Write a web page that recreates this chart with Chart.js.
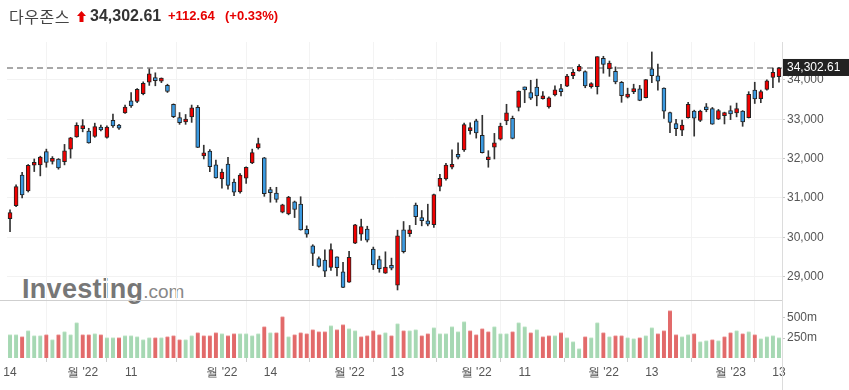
<!DOCTYPE html>
<html>
<head>
<meta charset="utf-8">
<script src="https://cdn.jsdelivr.net/npm/chart.js@4.4.1/dist/chart.umd.min.js"></script>
<style>
  body { margin: 0; background: #fff; width: 849px; height: 390px; overflow: hidden; position: relative;
         font-family: "Liberation Sans", Arial, "Noto Sans CJK KR", sans-serif; }
  .hd { position: absolute; top: 5px; height: 22px; line-height: 22px; white-space: nowrap; }
  #name { left: 9px; font-size: 16px; color: #444; font-family: "Noto Sans CJK KR", sans-serif; letter-spacing: 0.5px; }
  #arrow { left: 77px; top: 11px; height: auto; line-height: 0; }
  #last { left: 90px; font-size: 16px; font-weight: bold; color: #333; }
  #chg { left: 168px; font-size: 13px; font-weight: bold; color: #e60000; }
  #pct { left: 225px; font-size: 13px; font-weight: bold; color: #e60000; }
  #wm { position: absolute; left: 22px; top: 276px; line-height: 27px; white-space: nowrap; }
  #wm .inv { font-size: 27px; font-weight: bold; color: #777; letter-spacing: 0.3px; }
  #wm .com { font-size: 19px; color: #888; }
  #main { position: absolute; left: 0; top: 0; }
  #vol { position: absolute; left: 0; top: 300px; }
</style>
</head>
<body>
<div id="wm"><span class="inv">Investing</span><span class="com">.com</span></div>
<canvas id="main" width="849" height="300"></canvas>
<canvas id="vol" width="849" height="90"></canvas>
<span class="hd" id="name">다우존스</span>
<span class="hd" id="arrow"><svg width="9" height="11" viewBox="0 0 9 11"><path d="M4.5 0 L9 5 L6.5 5 L6.5 11 L2.5 11 L2.5 5 L0 5 Z" fill="#e60000"/></svg></span>
<span class="hd" id="last">34,302.61</span>
<span class="hd" id="chg">+112.64</span>
<span class="hd" id="pct">(+0.33%)</span>
<script>
// trading days 14 Jul 2022 .. 13 Jan 2023
var dates = [
  '7/14','7/15','7/18','7/19','7/20','7/21','7/22','7/25','7/26','7/27','7/28','7/29',
  '8/1','8/2','8/3','8/4','8/5','8/8','8/9','8/10','8/11','8/12','8/15','8/16','8/17','8/18','8/19','8/22','8/23','8/24','8/25','8/26','8/29','8/30','8/31',
  '9/1','9/2','9/6','9/7','9/8','9/9','9/12','9/13','9/14','9/15','9/16','9/19','9/20','9/21','9/22','9/23','9/26','9/27','9/28','9/29','9/30',
  '10/3','10/4','10/5','10/6','10/7','10/10','10/11','10/12','10/13','10/14','10/17','10/18','10/19','10/20','10/21','10/24','10/25','10/26','10/27','10/28','10/31',
  '11/1','11/2','11/3','11/4','11/7','11/8','11/9','11/10','11/11','11/14','11/15','11/16','11/17','11/18','11/21','11/22','11/23','11/25','11/28','11/29','11/30',
  '12/1','12/2','12/5','12/6','12/7','12/8','12/9','12/12','12/13','12/14','12/15','12/16','12/19','12/20','12/21','12/22','12/23','12/27','12/28','12/29','12/30',
  '1/3','1/4','1/5','1/6','1/9','1/10','1/11','1/12','1/13'
];

var tickText = {
  '7/14': '14', '8/1': "월 '22", '8/11': '11', '9/1': "월 '22", '9/14': '14', '10/3': "월 '22",
  '10/13': '13', '11/1': "월 '22", '11/11': '11', '12/1': "월 '22", '12/13': '13', '1/3': "월 '23", '1/13': '13'
};
var priceTicks = [29000, 30000, 31000, 32000, 33000, 34000];
var volTicks = [250, 500];

var opens = [
  30470,30800,31580,31180,31830,31840,32180,31930,31990,31920,32240,32550,
  32760,32700,32560,32800,32540,32970,32840,33160,33470,33450,33650,33940,34060,33970,33860,33380,33040,32930,33060,33300,32070,32190,31840,
  31480,31860,31400,31150,31500,31890,32270,32020,31160,31120,30640,30590,30900,30840,30200,29780,29460,29420,29230,29500,29120,
  28860,29850,30080,30210,29700,29430,29090,29240,28780,30190,30090,30820,30450,30420,30320,31290,31480,31780,32040,32220,32710,
  32960,32590,31970,32290,32490,32960,33020,33300,33800,33680,33820,33520,33310,33620,33780,33840,34110,34230,34210,33830,33830,
  34550,34280,34220,33940,33560,33700,33770,33550,34280,34100,33790,33170,32890,32720,33040,33210,32970,33270,33270,33000,33090,
  33220,33160,33210,33040,33740,33520,33760,34060,34080
];
var highs = [
  30700,31330,31650,31850,31990,32060,32240,32050,32000,32360,32540,32910,
  32990,32770,32900,32850,32830,33130,32870,33360,33680,33780,33950,34280,34180,34050,33890,33390,33170,33120,33360,33350,32340,32230,31960,
  31735,32030,31480,31620,31790,32240,32520,32030,31270,31270,30840,31040,30920,31030,30290,29810,29500,29680,29830,29500,29360,
  29640,30330,30460,30280,29750,29520,29630,29470,30180,30400,30300,30870,30680,30840,31100,31600,31880,32220,32400,32900,32910,
  33000,33100,32200,32640,32900,33380,33080,33720,33820,33990,34020,33700,33570,33850,33890,34140,34270,34390,34230,33930,34590,
  34600,34480,34330,33960,33790,33890,33860,34010,34710,34400,33800,33180,33000,32980,33430,33230,33230,33400,33300,33250,33180,
  33340,33410,33220,33700,33940,33740,34000,34300,34320
];
var lows = [
  30140,30780,31000,31150,31670,31560,31780,31860,31730,31840,32010,32540,
  32680,32390,32540,32700,32520,32790,32740,33150,33300,33420,33620,33860,33850,33930,33680,33040,32870,32870,32920,32280,31990,31670,31500,
  31250,31220,31060,31120,31370,31870,32240,31040,30890,30890,30620,30570,30500,30180,30000,29280,29240,29000,29160,29020,28720,
  28850,29840,29920,29880,29180,29110,29080,29170,28660,29600,30020,30320,30290,30290,30250,31180,31450,31740,31990,32180,32620,
  32520,32140,31780,31990,32470,32860,32500,33210,33420,33500,33340,33510,33280,33590,33590,33830,34030,34220,33800,33790,33640,
  34170,34090,33900,33430,33540,33650,33470,33540,33930,33740,33020,32660,32580,32580,33030,32570,32940,33190,32870,32990,32880,
  32990,33060,32820,33030,33400,33420,33740,33800,33940
];
var closes = [
  30630,31288,31073,31827,31875,32037,31899,31990,31762,32198,32530,32845,
  32798,32396,32812,32727,32803,32833,32774,33310,33337,33761,33912,34152,33980,33999,33707,33064,32910,32969,33292,32283,32099,31791,31510,
  31656,31318,31145,31581,31775,32152,32381,31105,31135,30962,30822,31020,30706,30184,30077,29590,29261,29135,29684,29226,28726,
  29491,30316,30274,29927,29297,29203,29239,29211,30039,29635,30186,30524,30424,30334,31083,31500,31837,31839,32033,32862,32733,
  32653,32148,32001,32403,32827,33161,32514,33715,33748,33537,33593,33554,33546,33746,33700,34098,34194,34347,33849,33853,34590,
  34395,34430,33947,33596,33598,33781,33476,34005,34109,33966,33202,32920,32758,32850,33376,33027,33204,33242,32876,33221,33147,
  33136,33270,32930,33631,33518,33704,33973,34190,34302.61
];
// volume in millions
var volumes = [
  292,292,267,342,279,279,292,229,292,329,292,442,
  292,292,304,292,254,254,254,279,279,267,229,254,254,254,267,279,229,229,279,317,279,279,317,
  304,279,304,304,304,279,304,392,317,317,517,267,292,317,304,354,329,329,404,354,417,
  367,342,267,279,342,292,317,279,429,342,342,354,279,304,379,304,304,392,329,454,342,
  292,367,329,392,304,304,329,442,392,317,354,267,279,279,317,254,204,117,267,254,442,
  317,267,279,279,254,242,254,279,379,304,342,592,292,267,292,304,204,217,229,217,267,
  317,342,304,329,292,242,267,279,254
];

var UP = '#f00000', DOWN = '#3b9ae1';
var bodyColors = closes.map(function(c, i) { return c >= opens[i] ? UP : DOWN; });
var volColors = closes.map(function(c, i) { return (i === 0 || c >= closes[i - 1]) ? '#a6d8b3' : '#e26a6a'; });
var volTops = closes.map(function(c, i) { return (i === 0 || c >= closes[i - 1]) ? '#c9eacf' : '#f0a3a3'; });
var lastPrice = closes[closes.length - 1];

var axisFont = { family: '"Liberation Sans", Arial, sans-serif', size: 12 };

function xTick(val) {
  var t = tickText[this.getLabelForValue(val)];
  return t === undefined ? null : t;
}

// fixed axis width, no extra label padding eating into the plot
function fitRightAxis(s) {
  s.width = 67;
  s.paddingTop = 0;
  s.paddingBottom = 0;
}

// right axis line through the whole panel
function axisLine(chart, y0, y1) {
  var ctx = chart.ctx, x = Math.round(chart.chartArea.right) + 0.5;
  ctx.save();
  ctx.strokeStyle = '#dcdcdc';
  ctx.lineWidth = 1;
  ctx.beginPath();
  ctx.moveTo(x, y0);
  ctx.lineTo(x, y1);
  ctx.stroke();
  ctx.restore();
}

var priceDecor = {
  id: 'priceDecor',
  beforeDatasetsDraw: function(chart) {
    var ctx = chart.ctx, area = chart.chartArea;
    var py = chart.scales.y.getPixelForValue(lastPrice);
    ctx.save();
    ctx.setLineDash([6, 4]);
    ctx.strokeStyle = '#a8a8a8';
    ctx.lineWidth = 2;
    ctx.beginPath();
    ctx.moveTo(area.left, py);
    ctx.lineTo(area.right, py);
    ctx.stroke();
    ctx.restore();
  },
  afterDraw: function(chart) {
    var ctx = chart.ctx, area = chart.chartArea;
    axisLine(chart, area.top, chart.height);
    var py = chart.scales.y.getPixelForValue(lastPrice);
    ctx.save();
    ctx.fillStyle = '#222';
    ctx.fillRect(area.right + 1, py - 9, chart.width - area.right, 17);
    ctx.fillStyle = '#fff';
    ctx.font = '12px "Liberation Sans", Arial, sans-serif';
    ctx.textBaseline = 'middle';
    ctx.fillText(lastPrice.toLocaleString('en-US', { minimumFractionDigits: 2 }), area.right + 5, py);
    ctx.restore();
  }
};

var volDecor = {
  id: 'volDecor',
  afterDraw: function(chart) {
    var ctx = chart.ctx, area = chart.chartArea;
    axisLine(chart, 0, chart.height);
    ctx.save();
    ctx.strokeStyle = '#cfcfcf';
    ctx.lineWidth = 1;
    ctx.beginPath();
    ctx.moveTo(0, 0.5);
    ctx.lineTo(area.right, 0.5);
    ctx.stroke();
    ctx.restore();
  }
};

new Chart(document.getElementById('main'), {
  type: 'bar',
  data: {
    labels: dates,
    datasets: [
      {
        label: 'wick',
        data: lows.map(function(l, i) { return [l, highs[i]]; }),
        backgroundColor: '#333',
        barThickness: 1,
        grouped: false,
        order: 2
      },
      {
        label: 'body',
        data: opens.map(function(o, i) { return [o, closes[i]]; }),
        backgroundColor: bodyColors,
        borderColor: '#222',
        borderWidth: 1,
        borderSkipped: false,
        barThickness: 4,
        minBarLength: 3,
        grouped: false,
        order: 1
      }
    ]
  },
  options: {
    responsive: false,
    animation: false,
    layout: { padding: { top: 42, left: 7, right: 0, bottom: 0 } },
    plugins: { legend: { display: false }, tooltip: { enabled: false } },
    scales: {
      x: {
        offset: true,
        border: { display: false },
        grid: { color: '#f3f3f3', drawTicks: false },
        ticks: { display: false, autoSkip: false, callback: xTick },
        afterFit: function(s) { s.height = 0; }
      },
      y: {
        position: 'right',
        min: 28405,
        max: 34963,
        border: { display: false },
        grid: { color: '#f2f2f2', tickColor: '#c8c8c8', tickLength: 3 },
        afterBuildTicks: function(s) { s.ticks = priceTicks.map(function(v) { return { value: v }; }); },
        ticks: {
          color: '#555', font: axisFont, padding: 2, autoSkip: false,
          callback: function(v) { return v.toLocaleString('en-US'); }
        },
        afterFit: fitRightAxis
      }
    }
  },
  plugins: [priceDecor]
});

new Chart(document.getElementById('vol'), {
  type: 'bar',
  data: {
    labels: dates,
    datasets: [{
      label: 'volume',
      data: volumes,
      backgroundColor: volColors,
      borderColor: volTops,
      borderWidth: { top: 1, left: 0, right: 0, bottom: 0 },
      barThickness: 4
    }]
  },
  options: {
    responsive: false,
    animation: false,
    layout: { padding: { top: 0, left: 7, right: 0, bottom: 0 } },
    plugins: { legend: { display: false }, tooltip: { enabled: false } },
    scales: {
      x: {
        offset: true,
        border: { display: false },
        grid: { color: '#f3f3f3', tickColor: '#cccccc', tickLength: 4 },
        ticks: { autoSkip: false, maxRotation: 0, minRotation: 0, color: '#555', font: axisFont, padding: 3, callback: xTick },
        afterFit: function(s) { s.height = 32; }
      },
      y: {
        position: 'right',
        min: 0,
        max: 725,
        border: { display: false },
        grid: { drawOnChartArea: false, tickColor: '#c8c8c8', tickLength: 3 },
        afterBuildTicks: function(s) { s.ticks = volTicks.map(function(v) { return { value: v }; }); },
        ticks: {
          color: '#555', font: axisFont, padding: 2, autoSkip: false,
          callback: function(v) { return v + 'm'; }
        },
        afterFit: fitRightAxis
      }
    }
  },
  plugins: [volDecor]
});
</script>
</body>
</html>
